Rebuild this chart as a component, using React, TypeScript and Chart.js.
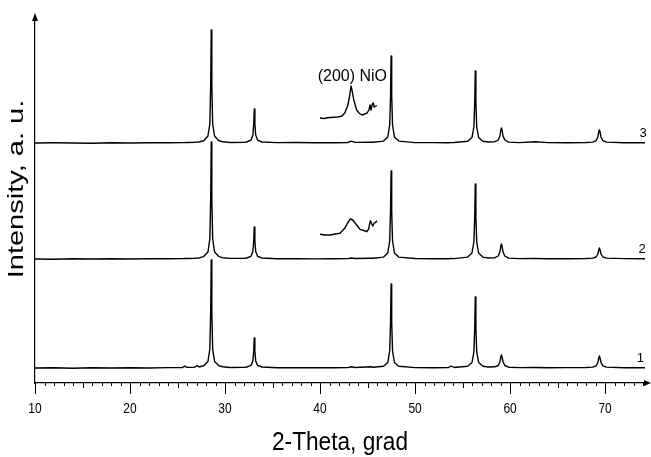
import React, { useEffect, useRef } from "react";
import { Chart, registerables } from "chart.js";

Chart.register(...registerables);

// 2-Theta grid shared by the three patterns
const twoTheta = [
  10, 12, 14, 16, 18, 20, 22, 24, 25.5, 25.75, 26.0, 26.8, 27.05, 27.2,
  27.35, 27.75, 28.2, 28.4, 28.49, 28.55, 28.61, 28.7, 28.9, 29.35, 29.75,
  30.5, 32.0,
  32.28, 32.73, 32.93, 33.02, 33.08, 33.14, 33.23, 33.43, 33.88,
  35.5, 37.5, 39.5, 41.5, 42.9, 43.3, 43.7, 45.3, 45.6,
  46.68, 47.13, 47.33, 47.42, 47.48, 47.54, 47.63, 47.83, 48.28,
  50.0, 52.0, 53.5, 53.8, 54.1,
  55.54, 55.99, 56.19, 56.28, 56.34, 56.4, 56.49, 56.69, 57.14,
  57.7,
  58.4, 58.75, 58.93, 59.02, 59.09, 59.16, 59.26, 59.45, 59.85,
  61.0, 62.6, 64.0, 66.0, 68.0,
  68.7, 69.05, 69.24, 69.33, 69.4, 69.47, 69.57, 69.76, 70.15,
  72.0, 74.2,
];

// intensities (a.u.) above each pattern's own baseline
const pattern1 = [
  0, 0.3, -0.2, 0.2, 0, 0.3, 0, 0.4, 0.4, 1.8, 0.6, 0.8, 2.5, 1.2,
  1.3, 2.2, 6.5, 19, 56, 108, 56, 19, 6.5, 2.2, 1.3,
  0.5, 0.6,
  1.0, 2.6, 7, 17, 30, 17, 7, 2.6, 1.0,
  0.3, 0.2, 0.2, 0.3, 0.4, 1.2, 0.5, 1.2, 0.8,
  1.8, 5.5, 17, 46, 84, 46, 17, 5.5, 1.8,
  0.4, 0.3, 0.4, 2, 0.5,
  1.8, 5.5, 16, 40, 71, 40, 16, 5.5, 1.8,
  1.0,
  1.2, 2.5, 6, 11, 13, 11, 6, 2.5, 0.8,
  0.4, 0.5, 0.3, 0.4, 0.5,
  0.9, 2.2, 5.5, 10, 12, 10, 5.5, 2.2, 0.9,
  0.3, 0.2,
];
const pattern2 = [
  0, -0.2, 0.2, 0, 0.3, 0, 0.2, 0.3, 0.4, 0.5, 0.5, 0.7, 0.9, 1.0,
  1.3, 2.4, 7, 20, 60, 117, 60, 20, 7, 2.4, 1.3,
  0.6, 0.7,
  1.0, 2.7, 7.5, 18, 32, 18, 7.5, 2.7, 1.0,
  0.3, 0.3, 0.1, 0.2, 0.4, 1, 0.5, 0.8, 0.8,
  1.9, 6, 18, 48, 88, 48, 18, 6, 1.9,
  0.5, 0.3, 0.3, 0.5, 0.4,
  1.9, 6, 17, 42, 75, 42, 17, 6, 1.9,
  1.0,
  1.3, 3, 7, 12.5, 15, 12.5, 7, 3, 0.9,
  0.4, 0.5, 0.3, 0.2, 0.5,
  0.9, 2, 5, 9, 11, 9, 5, 2, 0.9,
  0.4, 0.3,
];
const pattern3 = [
  0, 0.2, 0, -0.2, 0.2, 0, 0.3, 0.2, 0.4, 0.4, 0.5, 0.7, 0.9, 1.0,
  1.3, 2.3, 7, 19, 58, 113, 58, 19, 7, 2.3, 1.3,
  0.5, 0.6,
  1.0, 2.8, 8, 19, 34, 19, 8, 2.8, 1.0,
  0.4, 0.5, 0.2, 0.2, 0.5, 1.8, 0.6, 0.8, 0.8,
  1.9, 6, 18, 47, 87, 47, 18, 6, 1.9,
  0.4, 0.4, 0.3, 0.4, 0.5,
  1.8, 5.5, 16, 41, 72, 41, 16, 5.5, 1.8,
  1.0,
  1.3, 3, 7, 12.5, 15, 12.5, 7, 3, 0.9,
  0.4, 1.3, 0.4, 0.3, 0.5,
  0.9, 2.4, 6, 11, 13, 11, 6, 2.4, 0.9,
  0.3, 0.3,
];
const patternOffsets = [15, 124, 240];
const patternLabels = ["1", "2", "3"];

// (200) NiO enlarged insets
const inset3Theta = [
  40.0, 40.4, 40.8, 41.4, 41.9, 42.3, 42.6, 42.9, 43.1, 43.26, 43.4, 43.55,
  43.85, 44.1, 44.4, 44.7, 44.95, 45.15, 45.26, 45.37, 45.5, 45.6, 45.7, 45.8, 46.0,
];
const inset3Values = [
  0, -0.5, 0.3, 0.8, 1, 2, 5, 12, 21, 32, 26, 18,
  8, 5, 3, 4, 5, 8, 13, 8, 14, 15, 11, 11.5, 12.5,
];
const inset2Theta = [
  40.0, 40.5, 41.05, 41.6, 42.1, 42.6, 42.9, 43.2, 43.45, 43.7, 43.95, 44.2,
  44.6, 44.9, 45.1, 45.3, 45.45, 45.55, 45.7, 45.8, 46.0,
];
const inset2Values = [
  0.7, 0, 0, 1, 1.7, 6.7, 12, 16, 15, 11.7, 9, 5.7,
  4.5, 3.3, 5.7, 14.3, 11, 9, 12, 12.3, 14.3,
];
const insetOffsets = [148, 265];
const insetLabel = "(200) NiO";

const xTickLabels = [10, 20, 30, 40, 50, 60, 70];
const xTitle = "2-Theta, grad";
const yTitle = "Intensity, a. u.";

const FONT = "'Liberation Sans', Arial, Helvetica, sans-serif";

const decorations = {
  id: "decorations",
  afterDraw(chart: any) {
    const { ctx, chartArea, scales } = chart;
    const xs = scales.x;
    const ys = scales.y;
    ctx.save();
    ctx.strokeStyle = "#000";
    ctx.fillStyle = "#000";
    ctx.lineWidth = 1;
    // minor / major ticks
    for (let v = 10; v <= 74; v++) {
      const px = Math.round(xs.getPixelForValue(v)) + 0.5;
      const len = v % 10 === 0 ? 11 : v % 5 === 0 ? 5 : 3;
      ctx.beginPath();
      ctx.moveTo(px, chartArea.bottom);
      ctx.lineTo(px, chartArea.bottom + len);
      ctx.stroke();
    }
    // arrow heads
    const l = chartArea.left;
    const t = chartArea.top;
    ctx.beginPath();
    ctx.moveTo(l, t - 7);
    ctx.lineTo(l - 3, t + 1);
    ctx.lineTo(l + 3, t + 1);
    ctx.closePath();
    ctx.fill();
    const r = chartArea.right;
    const b = chartArea.bottom;
    ctx.beginPath();
    ctx.moveTo(r + 6, b);
    ctx.lineTo(r - 1, b - 3);
    ctx.lineTo(r - 1, b + 3);
    ctx.closePath();
    ctx.fill();

    ctx.textAlign = "center";
    ctx.textBaseline = "middle";
    // tick labels (slightly tall lettering, like the original)
    ctx.font = `12px ${FONT}`;
    xTickLabels.forEach((v) => {
      ctx.save();
      ctx.translate(xs.getPixelForValue(v), b + 26);
      ctx.scale(1, 1.25);
      ctx.fillText(String(v), 0, 0);
      ctx.restore();
    });
    // x title
    ctx.save();
    ctx.font = `22px ${FONT}`;
    ctx.translate((chartArea.left + chartArea.right) / 2, 443);
    ctx.scale(1.03, 1.2);
    ctx.fillText(xTitle, 0, 0);
    ctx.restore();
    // y title
    ctx.save();
    ctx.font = `22px ${FONT}`;
    ctx.translate(17, 189);
    ctx.rotate(-Math.PI / 2);
    ctx.scale(1.32, 1);
    ctx.fillText(yTitle, 0, 0);
    ctx.restore();

    // curve labels
    ctx.font = `13px ${FONT}`;
    const labelX = [73.7, 73.9, 74.0];
    patternLabels.forEach((lab, i) => {
      ctx.fillText(lab, xs.getPixelForValue(labelX[i]), ys.getPixelForValue(patternOffsets[i] + 10));
    });
    ctx.font = `16px ${FONT}`;
    ctx.fillText(insetLabel, xs.getPixelForValue(43.4), ys.getPixelForValue(306));
    ctx.restore();
  },
};

export default function App() {
  const ref = useRef<HTMLCanvasElement | null>(null);
  useEffect(() => {
    if (!ref.current) return;
    const mk = (xsArr: number[], vals: number[], off: number) =>
      xsArr.map((x, i) => ({ x, y: off + vals[i] }));
    const lineStyle = {
      borderColor: "#000",
      borderWidth: 1.4,
      borderJoinStyle: "round",
      pointRadius: 0,
      tension: 0,
      fill: false,
    };
    const patterns = [pattern1, pattern2, pattern3];
    const datasets: any[] = patterns.map((p, i) => ({
      label: patternLabels[i],
      data: mk(twoTheta, p, patternOffsets[i]),
      ...lineStyle,
    }));
    datasets.push({ label: "inset2", data: mk(inset2Theta, inset2Values, insetOffsets[0]), ...lineStyle });
    datasets.push({ label: "inset3", data: mk(inset3Theta, inset3Values, insetOffsets[1]), ...lineStyle });

    const chart = new Chart(ref.current, {
      type: "line",
      data: { datasets },
      options: {
        animation: false,
        responsive: false,
        devicePixelRatio: 1,
        layout: { padding: { top: 20, right: 6, left: 0, bottom: 0 } },
        plugins: { legend: { display: false }, tooltip: { enabled: false } },
        scales: {
          x: {
            type: "linear",
            min: 10,
            max: 74.2,
            afterFit: (s: any) => {
              s.height = 74;
            },
            grid: { display: false, drawTicks: false },
            border: { display: true, color: "#000", width: 1.2 },
            ticks: { display: false, stepSize: 10 },
          },
          y: {
            type: "linear",
            min: 0,
            max: 363,
            afterFit: (s: any) => {
              s.width = 35;
            },
            grid: { display: false, drawTicks: false },
            border: { display: true, color: "#000", width: 1.2 },
            ticks: { display: false },
          },
        },
      } as any,
      plugins: [decorations],
    });
    return () => chart.destroy();
  }, []);
  return (
    <div style={{ position: "absolute", left: 0, top: 0, width: 651, height: 457, background: "#fff" }}>
      <canvas ref={ref} width={651} height={457} />
    </div>
  );
}
